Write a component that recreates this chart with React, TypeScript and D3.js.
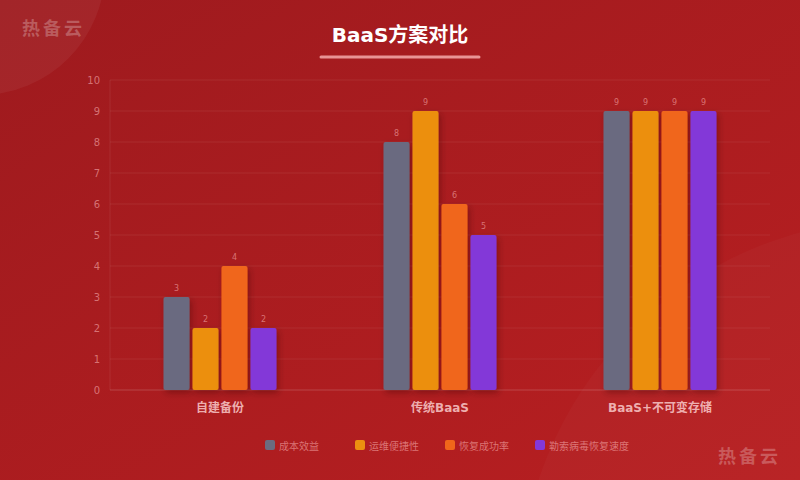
import React from "react";
import * as d3 from "d3";

const categories = ["自建备份", "传统BaaS", "BaaS+不可变存储"];
const seriesNames = ["成本效益", "运维便捷性", "恢复成功率", "勒索病毒恢复速度"];
const seriesColors = ["#6b6b80", "#ec8f10", "#f0661a", "#8338d8"];
const costValues = [3, 8, 9];
const opsValues = [2, 9, 9];
const recoveryValues = [4, 6, 9];
const ransomValues = [2, 5, 9];
const yTicks = [0, 1, 2, 3, 4, 5, 6, 7, 8, 9, 10];

const seriesValues = [costValues, opsValues, recoveryValues, ransomValues];

const W = 800;
const H = 480;
const M = { left: 110, right: 30, top: 80, bottom: 90 };

export default function App() {
  const x0 = d3.scaleBand<string>().domain(categories).range([M.left, W - M.right]).padding(0);
  const groupW = 113;
  const x1 = d3.scaleBand<string>().domain(seriesNames).range([-groupW / 2, groupW / 2]).paddingInner(0.1);
  const y = d3.scaleLinear().domain([0, 10]).range([H - M.bottom, M.top]);
  const font = "'DejaVu Sans', 'Noto Sans CJK SC', sans-serif";
  const labelFill = "rgba(255,190,190,0.55)";

  return (
    <svg width={W} height={H} style={{ position: "absolute", left: 0, top: 0, display: "block" }} fontFamily={font}>
      <defs>
        <linearGradient id="bg" x1="0" y1="0" x2="1" y2="1">
          <stop offset="0%" stopColor="#9e1a1e" />
          <stop offset="100%" stopColor="#b81f21" />
        </linearGradient>
        <filter id="sh" x="-30%" y="-10%" width="160%" height="130%">
          <feDropShadow dx="2" dy="3" stdDeviation="3" floodColor="#300000" floodOpacity="0.35" />
        </filter>
      </defs>
      <rect x={0} y={0} width={W} height={H} fill="url(#bg)" />
      <circle cx={-20} cy={-30} r={125} fill="rgba(255,255,255,0.05)" />
      <circle cx={900} cy={600} r={381} fill="rgba(255,255,255,0.025)" />

      <text x={22} y={35} fontSize={18} fontWeight="bold" fill="rgba(255,255,255,0.25)" letterSpacing={3}>热备云</text>
      <text x={718} y={463} fontSize={18} fontWeight="bold" fill="rgba(255,255,255,0.25)" letterSpacing={3}>热备云</text>

      <text x={400} y={42} textAnchor="middle" fontSize={20} fontWeight="bold" fill="#ffffff">BaaS方案对比</text>
      <line x1={321} y1={57} x2={479} y2={57} stroke="rgba(255,190,190,0.75)" strokeWidth={3} strokeLinecap="round" />

      {yTicks.map((t) => (
        <g key={t}>
          <line x1={M.left} x2={W - M.right} y1={y(t)} y2={y(t)} stroke="rgba(255,255,255,0.07)" strokeWidth={1} />
          <text x={100} y={y(t) + 4} textAnchor="end" fontSize={10} fill={labelFill}>{t}</text>
        </g>
      ))}
      <line x1={M.left} x2={M.left} y1={M.top} y2={y(0)} stroke="rgba(255,255,255,0.08)" />
      <line x1={M.left} x2={W - M.right} y1={y(0)} y2={y(0)} stroke="rgba(255,255,255,0.12)" />

      {categories.map((c, ci) => (
        <g key={c} transform={`translate(${(x0(c) as number) + x0.bandwidth() / 2},0)`}>
          {seriesNames.map((s, si) => {
            const v = seriesValues[si][ci];
            const bx = x1(s) as number;
            return (
              <g key={s}>
                <rect x={bx} y={y(v)} width={x1.bandwidth()} height={y(0) - y(v)} rx={2} fill={seriesColors[si]} filter="url(#sh)" />
                <text x={bx + x1.bandwidth() / 2} y={y(v) - 6} textAnchor="middle" fontSize={8} fill={labelFill}>{v}</text>
              </g>
            );
          })}
          <text x={0} y={412} textAnchor="middle" fontSize={12} fontWeight="bold" fill="rgba(255,215,215,0.8)">{c}</text>
        </g>
      ))}

      {seriesNames.map((s, si) => {
        const lx = [265, 355, 445, 535][si];
        return (
          <g key={s}>
            <rect x={lx} y={440} width={10} height={10} rx={2} fill={seriesColors[si]} />
            <text x={lx + 14} y={449.5} fontSize={10} fill={labelFill}>{s}</text>
          </g>
        );
      })}
    </svg>
  );
}
